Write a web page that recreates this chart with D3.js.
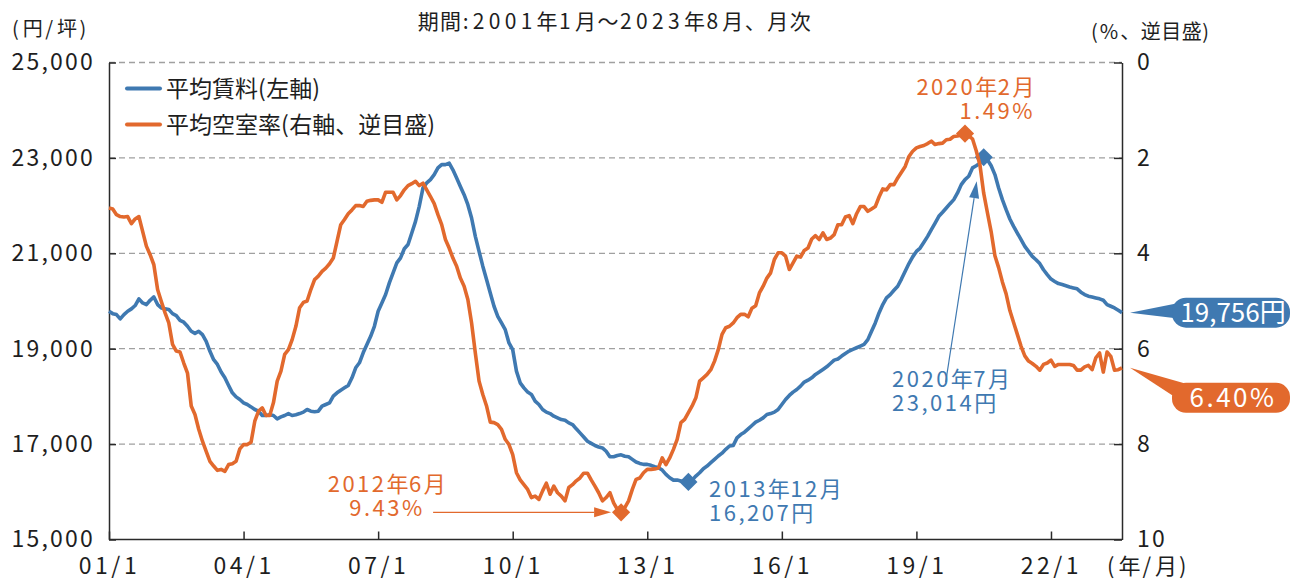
<!DOCTYPE html>
<html>
<head>
<meta charset="utf-8">
<script src="https://cdn.jsdelivr.net/npm/d3@7/dist/d3.min.js"></script>
<style>
  body { margin: 0; background: #fff; }
  svg { display: block; font-family: "Noto Sans CJK JP", "Noto Sans", sans-serif; }
</style>
</head>
<body>
<div id="chart"></div>
<script>
// monthly series, 2001/1 .. 2023/8
const rent = [
  19785, 19735, 19715, 19625, 19715, 19785, 19835, 19905, 20045, 19960, 19925, 20015,
  20085, 19925, 19855, 19835, 19820, 19735, 19695, 19595, 19555, 19470, 19365, 19320,
  19365, 19295, 19155, 18945, 18770, 18670, 18510, 18390, 18230, 18075, 17990, 17935,
  17865, 17830, 17780, 17725, 17690, 17600, 17600, 17615, 17600, 17530, 17570, 17600,
  17640, 17600, 17615, 17640, 17670, 17725, 17690, 17680, 17690, 17795, 17830, 17865,
  18005, 18075, 18130, 18180, 18230, 18390, 18600, 18705, 18915, 19090, 19260, 19470,
  19785, 19960, 20135, 20380, 20590, 20800, 20905, 21095, 21185, 21425, 21670, 21985,
  22370, 22475, 22545, 22650, 22790, 22860, 22860, 22890, 22750, 22580, 22400, 22230,
  22020, 21740, 21355, 21040, 20730, 20450, 20170, 19890, 19680, 19540, 19400, 19120,
  18980, 18530, 18285, 18180, 18090, 18040, 17900, 17830, 17725, 17670, 17640, 17585,
  17550, 17515, 17500, 17445, 17410, 17320, 17235, 17150, 17060, 17015, 16970, 16940,
  16920, 16850, 16735, 16735, 16760, 16775, 16745, 16735, 16680, 16625, 16595, 16575,
  16575, 16555, 16525, 16505, 16455, 16365, 16295, 16245, 16245, 16225, 16225, 16207,
  16245, 16330, 16400, 16485, 16540, 16610, 16680, 16750, 16810, 16890, 16960, 16970,
  17130, 17200, 17250, 17320, 17390, 17460, 17500, 17550, 17620, 17640, 17670, 17725,
  17830, 17935, 18020, 18090, 18145, 18215, 18300, 18340, 18390, 18460, 18510, 18565,
  18620, 18690, 18760, 18785, 18845, 18900, 18950, 18985, 19020, 19055, 19090, 19190,
  19365, 19540, 19750, 19925, 20065, 20135, 20225, 20310, 20460, 20625, 20785, 20925,
  21040, 21110, 21230, 21355, 21495, 21635, 21775, 21860, 21950, 22040, 22125, 22265,
  22440, 22545, 22615, 22790, 22835, 22890, 23014, 22960, 22835, 22650, 22370, 22125,
  21915, 21720, 21565, 21425, 21285, 21145, 21040, 20935, 20865, 20785, 20655, 20555,
  20460, 20410, 20365, 20345, 20320, 20295, 20275, 20255, 20185, 20135, 20100, 20085,
  20065, 20045, 20015, 19925, 19890, 19855, 19805, 19756
];
const vacancy = [
  3.05, 3.07, 3.19, 3.23, 3.24, 3.23, 3.38, 3.28, 3.23, 3.54, 3.85, 4.03,
  4.24, 4.76, 5.01, 5.25, 5.46, 5.91, 6.05, 6.07, 6.30, 6.51, 7.20, 7.38,
  7.69, 7.94, 8.15, 8.36, 8.46, 8.55, 8.53, 8.57, 8.43, 8.41, 8.36, 8.10,
  8.01, 8.01, 7.96, 7.52, 7.31, 7.24, 7.40, 7.40, 7.13, 6.68, 6.47, 6.12,
  6.02, 5.81, 5.53, 5.14, 5.03, 5.00, 4.76, 4.55, 4.48, 4.38, 4.31, 4.22,
  4.10, 3.75, 3.40, 3.29, 3.17, 3.09, 3.00, 3.00, 3.02, 2.91, 2.89, 2.88,
  2.88, 2.93, 2.72, 2.72, 2.72, 2.88, 2.79, 2.67, 2.58, 2.54, 2.49, 2.58,
  2.53, 2.67, 2.81, 2.96, 3.19, 3.40, 3.71, 3.89, 4.10, 4.27, 4.52, 4.69,
  4.97, 5.46, 6.09, 6.68, 6.96, 7.20, 7.54, 7.55, 7.59, 7.69, 7.90, 8.01,
  8.22, 8.60, 8.75, 8.85, 8.95, 9.12, 9.09, 9.16, 8.98, 8.82, 9.05, 8.88,
  9.02, 9.09, 9.19, 8.91, 8.85, 8.77, 8.71, 8.61, 8.61, 8.75, 8.88, 9.02,
  9.19, 9.12, 9.02, 9.23, 9.37, 9.43, 9.33, 9.19, 8.95, 8.74, 8.71, 8.60,
  8.53, 8.53, 8.52, 8.50, 8.29, 8.43, 8.29, 8.11, 7.90, 7.55, 7.48, 7.34,
  7.20, 7.03, 6.68, 6.61, 6.54, 6.44, 6.26, 6.02, 5.70, 5.56, 5.53, 5.46,
  5.35, 5.28, 5.28, 5.33, 5.15, 5.10, 4.83, 4.69, 4.52, 4.41, 4.13, 3.99,
  3.99, 4.06, 4.34, 4.20, 4.06, 4.08, 3.94, 3.89, 3.70, 3.63, 3.71, 3.57,
  3.71, 3.68, 3.61, 3.40, 3.40, 3.24, 3.21, 3.38, 3.17, 3.02, 3.02, 3.12,
  3.07, 3.02, 2.82, 2.65, 2.67, 2.56, 2.56, 2.42, 2.30, 2.18, 1.97, 1.86,
  1.79, 1.76, 1.74, 1.70, 1.65, 1.72, 1.70, 1.69, 1.62, 1.61, 1.55, 1.54,
  1.52, 1.49, 1.54, 1.60, 1.85, 2.15, 2.74, 3.15, 3.55, 4.05, 4.30, 4.60,
  4.85, 5.20, 5.45, 5.70, 5.95, 6.15, 6.26, 6.31, 6.37, 6.45, 6.33, 6.30,
  6.24, 6.37, 6.33, 6.33, 6.33, 6.33, 6.35, 6.45, 6.45, 6.38, 6.35, 6.44,
  6.19, 6.09, 6.49, 6.07, 6.16, 6.45, 6.44, 6.40
];
const leftTicks = [15000, 17000, 19000, 21000, 23000, 25000];
const rightTicks = [0, 2, 4, 6, 8, 10];
const xTickLabels = ['01/1', '04/1', '07/1', '10/1', '13/1', '16/1', '19/1', '22/1'];
const legendLabels = ['平均賃料(左軸)', '平均空室率(右軸、逆目盛)'];

// highlighted points: month index from 2001/1
const rentMin = { m: 155, label: ['2013年12月', '16,207円'] };
const rentMax = { m: 234, label: ['2020年7月', '23,014円'] };
const vacMax = { m: 137, label: ['2012年6月', '9.43%'] };
const vacMin = { m: 229, label: ['2020年2月', '1.49%'] };

const blue = '#3f79b1';
const orange = '#e2692d';
const ink = '#1e1e1e';

const W = 1293, H = 582;
const margin = { top: 62.5, right: 171, bottom: 42.5, left: 109 };
const innerW = W - margin.left - margin.right;
const innerH = H - margin.top - margin.bottom;

const svg = d3.select('#chart').append('svg').attr('width', W).attr('height', H);
const g = svg.append('g').attr('transform', `translate(${margin.left},${margin.top})`);

// the source font has wide digits: widen ascii runs with letter-spacing
function rich(sel, str, lsAscii, lsCjk) {
  const parts = str.match(/[\x20-\x7e]+|[^\x20-\x7e]+/g);
  parts.forEach((p) => {
    sel.append('tspan')
      .attr('letter-spacing', /^[\x20-\x7e]/.test(p) ? lsAscii : lsCjk)
      .text(p);
  });
  return sel;
}

const x = d3.scaleLinear().domain([0, rent.length - 1]).range([0, innerW]);
const yL = d3.scaleLinear().domain([15000, 25000]).range([innerH, 0]);
const yR = d3.scaleLinear().domain([0, 10]).range([0, innerH]);

// Gridlines
g.append('g')
  .selectAll('line')
  .data(leftTicks.filter((d) => d > 15000))
  .enter()
  .append('line')
  .attr('x1', 0)
  .attr('x2', innerW)
  .attr('y1', (d) => yL(d))
  .attr('y2', (d) => yL(d))
  .attr('stroke', '#a0a0a0')
  .attr('stroke-width', 1.3)
  .attr('stroke-dasharray', '6,4');

// Axes
const xTickVals = xTickLabels.map((d, i) => i * 36);
const axisX = g.append('g')
  .attr('transform', `translate(0,${innerH})`)
  .call(d3.axisBottom(x).tickValues(xTickVals).tickFormat((d, i) => xTickLabels[i])
    .tickSizeInner(-8).tickSizeOuter(0).tickPadding(18));

const axisL = g.append('g')
  .call(d3.axisLeft(yL).tickValues(leftTicks).tickFormat(d3.format(','))
    .tickSizeInner(-7).tickSizeOuter(0).tickPadding(14));

const axisR = g.append('g')
  .attr('transform', `translate(${innerW},0)`)
  .call(d3.axisRight(yR).tickValues(rightTicks).tickSizeInner(-8).tickSizeOuter(0).tickPadding(15));

[axisX, axisL, axisR].forEach((a) => {
  a.selectAll('.domain, .tick line').attr('stroke', '#2a2a2a').attr('stroke-width', 1.5);
  a.selectAll('text').attr('fill', ink).attr('font-size', '23px').attr('letter-spacing', 2.2)
    .attr('font-family', '"Noto Sans CJK JP", "Noto Sans", sans-serif');
});
axisX.selectAll('text').attr('letter-spacing', 3.5);
axisX.select('.domain').attr('d', `M0,0H${innerW}`);

// Lines
const rentLine = d3.line().x((d, i) => x(i)).y((d) => yL(d));
const vacLine = d3.line().x((d, i) => x(i)).y((d) => yR(d));

g.append('path').datum(rent).attr('d', rentLine)
  .attr('fill', 'none').attr('stroke', blue).attr('stroke-width', 3.6)
  .attr('stroke-linejoin', 'round');

const diamond = d3.symbol().type(d3.symbolSquare).size(165);
function marker(px, py, color) {
  g.append('path').attr('d', diamond)
    .attr('transform', `translate(${px},${py}) rotate(45)`)
    .attr('fill', color);
}
marker(x(rentMin.m), yL(rent[rentMin.m]), blue);
marker(x(rentMax.m), yL(rent[rentMax.m]), blue);

g.append('path').datum(vacancy).attr('d', vacLine)
  .attr('fill', 'none').attr('stroke', orange).attr('stroke-width', 3.6)
  .attr('stroke-linejoin', 'round');

marker(x(vacMax.m), yR(vacancy[vacMax.m]), orange);
marker(x(vacMin.m), yR(vacancy[vacMin.m]), orange);

// Arrows
function arrow(x1, y1, x2, y2, color) {
  const ang = Math.atan2(y2 - y1, x2 - x1);
  const len = 17, half = 5;
  const bx = x2 - len * Math.cos(ang), by = y2 - len * Math.sin(ang);
  g.append('line').attr('x1', x1).attr('y1', y1).attr('x2', bx).attr('y2', by)
    .attr('stroke', color).attr('stroke-width', 1.2);
  const px = -Math.sin(ang) * half, py = Math.cos(ang) * half;
  g.append('path')
    .attr('d', `M${x2},${y2}L${bx + px},${by + py}L${bx - px},${by - py}Z`)
    .attr('fill', color);
}
const rmx = x(rentMax.m), rmy = yL(rent[rentMax.m]);
arrow(rmx - 38, rmy + 225, rmx - 7, rmy + 24, blue);
const vmx = x(vacMax.m), vmy = yR(vacancy[vacMax.m]);
arrow(vmx - 188, vmy, vmx - 10, vmy, orange);

// Annotation text
function label(lines, px, py, anchor, color) {
  lines.forEach((t, i) => {
    const el = g.append('text').attr('x', px).attr('y', py + i * 24)
      .attr('text-anchor', anchor).attr('fill', color)
      .attr('font-size', '22px');
    rich(el, t, 2.5, 0.5);
  });
}
label(vacMin.label, 926, 32, 'end', orange);
label(rentMax.label, 783, 324, 'start', blue);
label(rentMin.label, 600, 434, 'start', blue);
label(vacMax.label, 278, 429, 'middle', orange);

// Last-value callouts
function callout(text, color, pts, bx, by, ls) {
  g.append('path').attr('d', d3.line()(pts)).attr('fill', color);
  g.append('rect').attr('x', bx).attr('y', by).attr('width', 118).attr('height', 30)
    .attr('rx', 14).attr('fill', color);
  const el = g.append('text').attr('x', bx + 61).attr('y', by + 15).attr('dy', '0.36em')
    .attr('text-anchor', 'middle').attr('fill', '#fff').attr('font-size', '26px');
  rich(el, text, ls, 0);
}
const lastI = rent.length - 1;
const ex = x(lastI) + 8;
const ry = yL(rent[lastI]);
callout(d3.format(',')(rent[lastI]) + '円', blue,
  [[ex, ry], [ex + 50, ry - 10], [ex + 50, ry + 6]], ex + 42, ry - 15, 0);
const vy = yR(vacancy[lastI]);
callout(vacancy[lastI].toFixed(2) + '%', orange,
  [[ex, vy], [ex + 56, vy + 16], [ex + 46, vy + 30]], ex + 42, vy + 15, 2.5);

// Legend
const legend = g.append('g').attr('transform', 'translate(18,26)');
[blue, orange].forEach((c, i) => {
  legend.append('line').attr('x1', 0).attr('x2', 33).attr('y1', i * 36).attr('y2', i * 36)
    .attr('stroke', c).attr('stroke-width', 4).attr('stroke-linecap', 'round');
  const el = legend.append('text').attr('x', 39).attr('y', i * 36).attr('dy', '0.36em')
    .attr('fill', ink).attr('font-size', '23px');
  rich(el, legendLabels[i], 0.5, 0);
});

// Titles and units
rich(svg.append('text').attr('x', 615).attr('y', 21).attr('dy', '0.36em')
  .attr('text-anchor', 'middle').attr('fill', ink).attr('font-size', '21px'),
  '期間:2001年1月～2023年8月、月次', 4.3, 1.5);
rich(svg.append('text').attr('x', 12).attr('y', 29).attr('dy', '0.36em')
  .attr('fill', ink).attr('font-size', '20px'), '(円/坪)', 4, 2.5);
rich(svg.append('text').attr('x', 1091).attr('y', 32).attr('dy', '0.36em')
  .attr('fill', ink).attr('font-size', '20px'), '(%、逆目盛)', 2, 0.5);
rich(svg.append('text').attr('x', 1107).attr('y', 574)
  .attr('fill', ink).attr('font-size', '22px'), '(年/月)', 4, 2);
</script>
</body>
</html>
